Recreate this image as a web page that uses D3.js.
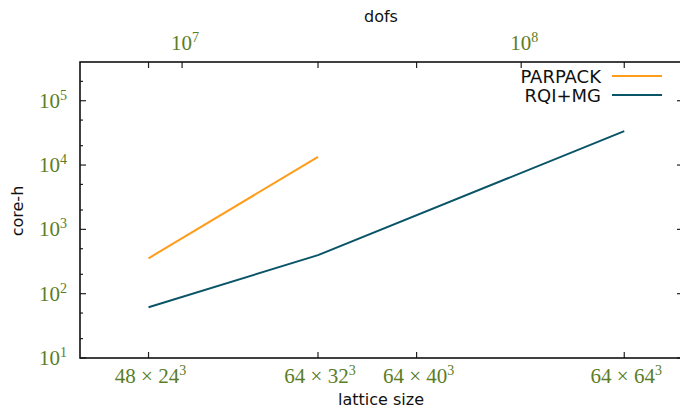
<!DOCTYPE html>
<html><head><meta charset="utf-8">
<script src="https://cdn.jsdelivr.net/npm/d3@7"></script>
<style>body{margin:0;background:#fff}svg{display:block}</style>
</head><body>
<script>
// data
const latticeLabels = [["48 × 24","3"],["64 × 32","3"],["64 × 40","3"],["64 × 64","3"]];
const latticeVolumes = [48*24**3, 64*32**3, 64*40**3, 64*64**3];
const dofsPerSite = 12;
const parpackSizes = [48*24**3, 64*32**3];
const parpackCoreH = [355, 13400];
const rqiSizes = [48*24**3, 64*32**3, 64*64**3];
const rqiCoreH = [61.5, 398, 33600];
const yTickValues = [10, 100, 1000, 10000, 100000];
const dofsTicks = [1e7, 1e8];
const seriesNames = ["PARPACK", "RQI+MG"];
const seriesColors = ["#ff9c1a", "#0a5468"];

const W = 680, H = 409;
const L = 80, R = 683, T = 62, B = 358;
const svg = d3.select("body").append("svg").attr("width", W).attr("height", H);

const x = d3.scaleLog().domain([5e6, 3e8]).range([L, R]);
const y = d3.scaleLog().domain([10, 4e5]).range([B, T]);

const labColor = "#5b7d26";
const serif = "'Liberation Serif', serif";
const sans = "'DejaVu Sans', sans-serif";

// minor y ticks (2 and 5)
const yMinor = [];
[1,2,3,4,5].forEach(e => [2,5].forEach(m => { const v = m*10**e; if (v < 4e5) yMinor.push(v); }));

function powLabel(sel, e) {
  sel.append("tspan").text("10");
  sel.append("tspan").attr("font-size", "14px").attr("dy", -8).text(e);
}

// left axis
const gL = svg.append("g");
gL.selectAll("line.maj").data(yTickValues).join("line")
  .attr("x1", L).attr("x2", L+6).attr("y1", d=>y(d)).attr("y2", d=>y(d)).attr("stroke", "#222").attr("stroke-width", 1.2);
gL.selectAll("line.min").data(yMinor).join("line")
  .attr("x1", L).attr("x2", L+3).attr("y1", d=>y(d)).attr("y2", d=>y(d)).attr("stroke", "#222").attr("stroke-width", 1.2);
gL.selectAll("text").data(yTickValues).join("text")
  .attr("x", 67).attr("y", d=>y(d)+7).attr("text-anchor", "end")
  .attr("font-family", serif).attr("font-size", "21px").attr("fill", labColor)
  .each(function(d){ powLabel(d3.select(this), Math.round(Math.log10(d))); });

// right axis mirror ticks
const gR = svg.append("g");
gR.selectAll("line.maj").data(yTickValues).join("line")
  .attr("x1", R).attr("x2", R-6).attr("y1", d=>y(d)).attr("y2", d=>y(d)).attr("stroke", "#222").attr("stroke-width", 1.2);
gR.selectAll("line.min").data(yMinor).join("line")
  .attr("x1", R).attr("x2", R-3).attr("y1", d=>y(d)).attr("y2", d=>y(d)).attr("stroke", "#222").attr("stroke-width", 1.2);

// bottom axis
const latDofs = latticeVolumes.map(v => v*dofsPerSite);
svg.selectAll("line.bt").data(latDofs).join("line")
  .attr("x1", d=>x(d)).attr("x2", d=>x(d)).attr("y1", B).attr("y2", B-6).attr("stroke", "#222").attr("stroke-width", 1.2);
svg.selectAll("line.tt").data(latDofs.concat(dofsTicks)).join("line")
  .attr("x1", d=>x(d)).attr("x2", d=>x(d)).attr("y1", T).attr("y2", T+6).attr("stroke", "#222").attr("stroke-width", 1.2);
svg.selectAll("text.bl").data(latticeLabels).join("text")
  .attr("x", (d,i)=>x(latDofs[i])+2).attr("y", 383).attr("text-anchor", "middle")
  .attr("font-family", serif).attr("font-size", "21px").attr("fill", labColor)
  .each(function(d){ const s=d3.select(this); s.append("tspan").text(d[0]); s.append("tspan").attr("font-size","14px").attr("dy",-8).text(d[1]); });

// top axis labels
svg.selectAll("text.tl").data(dofsTicks).join("text")
  .attr("x", d=>x(d)+3).attr("y", 50).attr("text-anchor", "middle")
  .attr("font-family", serif).attr("font-size", "21px").attr("fill", labColor)
  .each(function(d){ powLabel(d3.select(this), Math.round(Math.log10(d))); });

// frame
svg.append("rect").attr("x", L).attr("y", T).attr("width", R-L).attr("height", B-T)
  .attr("fill", "none").attr("stroke", "#111").attr("stroke-width", 1.6);

// axis titles
svg.append("text").attr("x", 381).attr("y", 22).attr("text-anchor", "middle")
  .attr("font-family", sans).attr("font-size", "16px").attr("fill", "#111").text("dofs");
svg.append("text").attr("x", 381).attr("y", 405).attr("text-anchor", "middle")
  .attr("font-family", sans).attr("font-size", "16px").attr("fill", "#111").text("lattice size");
svg.append("text").attr("transform", "translate(23,211) rotate(-90)").attr("text-anchor", "middle")
  .attr("font-family", sans).attr("font-size", "16px").attr("fill", "#111").text("core-h");

// lines
const line = d3.line().x(d=>x(d[0]*dofsPerSite)).y(d=>y(d[1]));
const series = [d3.zip(parpackSizes, parpackCoreH), d3.zip(rqiSizes, rqiCoreH)];
svg.selectAll("path.s").data(series).join("path")
  .attr("d", line).attr("fill", "none").attr("stroke", (d,i)=>seriesColors[i]).attr("stroke-width", 2);

// legend
seriesNames.forEach((n,i) => {
  const yy = 76 + i*19;
  svg.append("text").attr("x", 601).attr("y", yy+6.5).attr("text-anchor", "end")
    .attr("font-family", sans).attr("font-size", "18px").attr("fill", "#111").text(n);
  svg.append("line").attr("x1", 612).attr("x2", 662).attr("y1", yy).attr("y2", yy)
    .attr("stroke", seriesColors[i]).attr("stroke-width", 2);
});
</script>
</body></html>
